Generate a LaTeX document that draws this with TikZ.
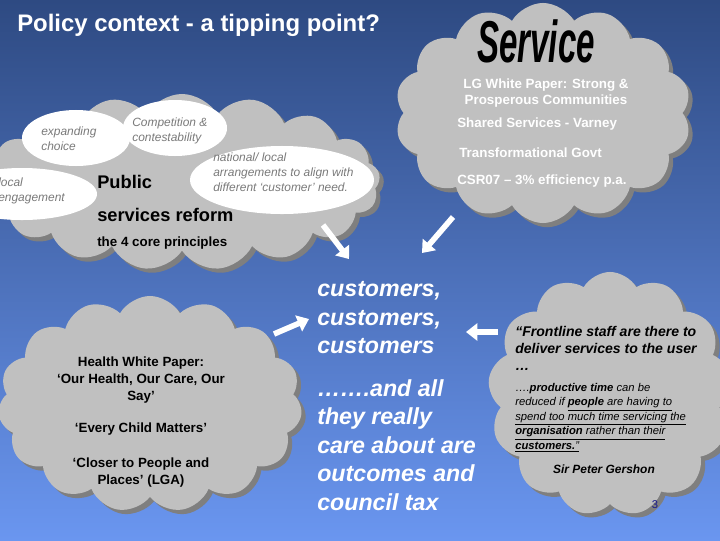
\documentclass[tikz,border=0pt]{standalone}
\usepackage{fontspec}
\setmainfont{Liberation Sans}
\usepackage{xcolor}
\usetikzlibrary{shapes.symbols, shapes.geometric, arrows.meta, shadows}
\definecolor{SlideTop}{HTML}{2E4A82}
\definecolor{SlideBottom}{HTML}{6A96F0}
\definecolor{CloudGrey}{HTML}{C0C0C0}
\definecolor{CloudShadow}{HTML}{7F7F7F}
\definecolor{NoteGrey}{HTML}{7A7A7A}
\definecolor{PageBlue}{HTML}{1A1A8C}
\tikzset{
    % Grey cloud with a hard shadow
    bubble/.style={
        cloud,
        cloud puffs=15,
        cloud puff arc=120,
        cloud ignores aspect,
        fill=CloudGrey,
        draw=none,
        inner sep=0pt,
        general shadow={fill=CloudShadow, shadow xshift=3pt, shadow yshift=-3pt}
    },
    % White ellipse inside the reform cloud
    spot/.style={
        ellipse,
        fill=white,
        draw=none,
        inner sep=0pt
    },
    % Italic grey note on an ellipse
    note/.style={
        anchor=west,
        align=left,
        inner sep=0pt,
        text=NoteGrey,
        font=\fontsize{8.5}{10.6}\selectfont\itshape
    },
    % Black heading in the reform cloud
    reformhead/.style={
        anchor=west,
        inner sep=0pt,
        font=\fontsize{13}{15}\selectfont\bfseries
    },
    % White bullet text in the service cloud
    servicetext/.style={
        anchor=west,
        inner sep=0pt,
        text=white,
        align=center,
        font=\fontsize{9.5}{12}\selectfont\bfseries
    },
    % Black text in the health cloud
    healthtext/.style={
        align=center,
        inner sep=0pt,
        font=\fontsize{9.5}{12}\selectfont\bfseries
    },
    % Quote text in the frontline cloud
    quotetext/.style={
        anchor=north west,
        align=left,
        inner sep=0pt,
        font=\fontsize{8}{10.3}\selectfont\itshape
    },
    % Big white text in the middle
    bigtext/.style={
        anchor=west,
        align=left,
        inner sep=0pt,
        text=white,
        font=\fontsize{16.5}{20.3}\selectfont\bfseries\itshape
    },
    % Thick white arrow
    push/.style={
        -{Triangle[width=12pt,length=8pt]},
        line width=4pt,
        draw=white
    }
}

\begin{document}
\begin{tikzpicture}[x=0.025cm, y=-0.025cm]
    \useasboundingbox (0,0) rectangle (720,540);
    \shade [top color=SlideTop, bottom color=SlideBottom] (0,0) rectangle (720,540);

    % Title
    \node (title) [anchor=west, inner sep=0pt, text=white, font=\fontsize{17}{20}\selectfont\bfseries] at (17,25) {Policy context - a tipping point?};

    % Public services reform cloud
    \node (reform) [bubble, cloud puffs=17, minimum width=9.9cm, minimum height=4.4cm] at (182,182) {};
    \node (choicespot) [spot, minimum width=2.7cm, minimum height=1.4cm] at (76,138) {};
    \node (competespot) [spot, minimum width=2.6cm, minimum height=1.4cm] at (175,128) {};
    \node (localspot) [spot, minimum width=3.75cm, minimum height=1.3cm] at (22,194) {};
    \node (nationalspot) [spot, minimum width=4.6cm, minimum height=1.7cm] at (282,180) {};
    \node (choice) [note] at (41,139) {expanding\\choice};
    \node (compete) [note] at (132,131) {Competition \&\\contestability};
    \node (local) [note] at (-2,191) {local\\engagement};
    \node (national) [note] at (213,172) {national/ local\\arrangements to align with\\different ‘customer’ need.};
    \node (public) [reformhead] at (97,182) {Public};
    \node (services) [reformhead] at (97,215) {services reform};
    \node (principles) [reformhead, font=\fontsize{9.5}{12}\selectfont\bfseries] at (97,243) {the 4 core principles};

    % Service cloud
    \node (servicecloud) [bubble, cloud puffs=14, minimum width=7.4cm, minimum height=5.5cm] at (543,113) {};
    \node (servicehead) [inner sep=0pt, font=\fontsize{42}{42}\selectfont\bfseries\itshape] at (536,41) {\scalebox{0.56}[1]{Service}};
    \node (lgwp) [servicetext, anchor=center] at (546,93) {LG White Paper: Strong \&\\Prosperous Communities};
    \node (shared) [servicetext] at (457,124) {Shared Services - Varney};
    \node (transformational) [servicetext] at (459,153) {Transformational Govt};
    \node (csr) [servicetext] at (457,181) {CSR07 – 3\% efficiency p.a.};

    % Health cloud
    \node (health) [bubble, minimum width=7.6cm, minimum height=5.4cm] at (150,404) {};
    \node (healthlist) [healthtext] at (141,422) {Health White Paper:\\‘Our Health, Our Care, Our\\Say’\\[11pt]‘Every Child Matters’\\[13pt]‘Closer to People and\\Places’ (LGA)};

    % Frontline quote cloud
    \node (frontline) [bubble, cloud puffs=13, minimum width=6.1cm, minimum height=6.1cm] at (610,394) {};
    \node (quotehead) [quotetext, font=\fontsize{10}{12}\selectfont\bfseries\itshape] at (515,326) {“Frontline staff are there to\\deliver services to the user\\…};
    \node (quotebody) [quotetext] at (515,383) {….\textbf{productive time} can be\\reduced if \underline{\textbf{people} are having to}\\\underline{spend too much time servicing the}\\\underline{\textbf{organisation} rather than their}\\\underline{\textbf{customers.}”}};
    \node (gershon) [inner sep=0pt, font=\fontsize{8.5}{10}\selectfont\bfseries\itshape] at (604,469) {Sir Peter Gershon};
    \node (pagenum) [inner sep=0pt, text=PageBlue, font=\fontsize{8}{10}\selectfont] at (655,505) {3};

    % Customers in the middle
    \node (cust) [bigtext] at (317,396) {customers,\\customers,\\customers\\[10pt]…….and all\\they really\\care about are\\outcomes and\\council tax};

    % Arrows towards the customers
    \coordinate (reformtail) at (323,225);
    \coordinate (reformtip) at (349,259);
    \coordinate (servicetail) at (453,217);
    \coordinate (servicetip) at (422,253);
    \coordinate (healthtail) at (274,334);
    \coordinate (healthtip) at (309,319);
    \coordinate (frontlinetail) at (498,332);
    \coordinate (frontlinetip) at (466,332);
    \draw [push] (reformtail) -- (reformtip);
    \draw [push] (servicetail) -- (servicetip);
    \draw [push] (healthtail) -- (healthtip);
    \draw [push] (frontlinetail) -- (frontlinetip);
\end{tikzpicture}
\end{document}
